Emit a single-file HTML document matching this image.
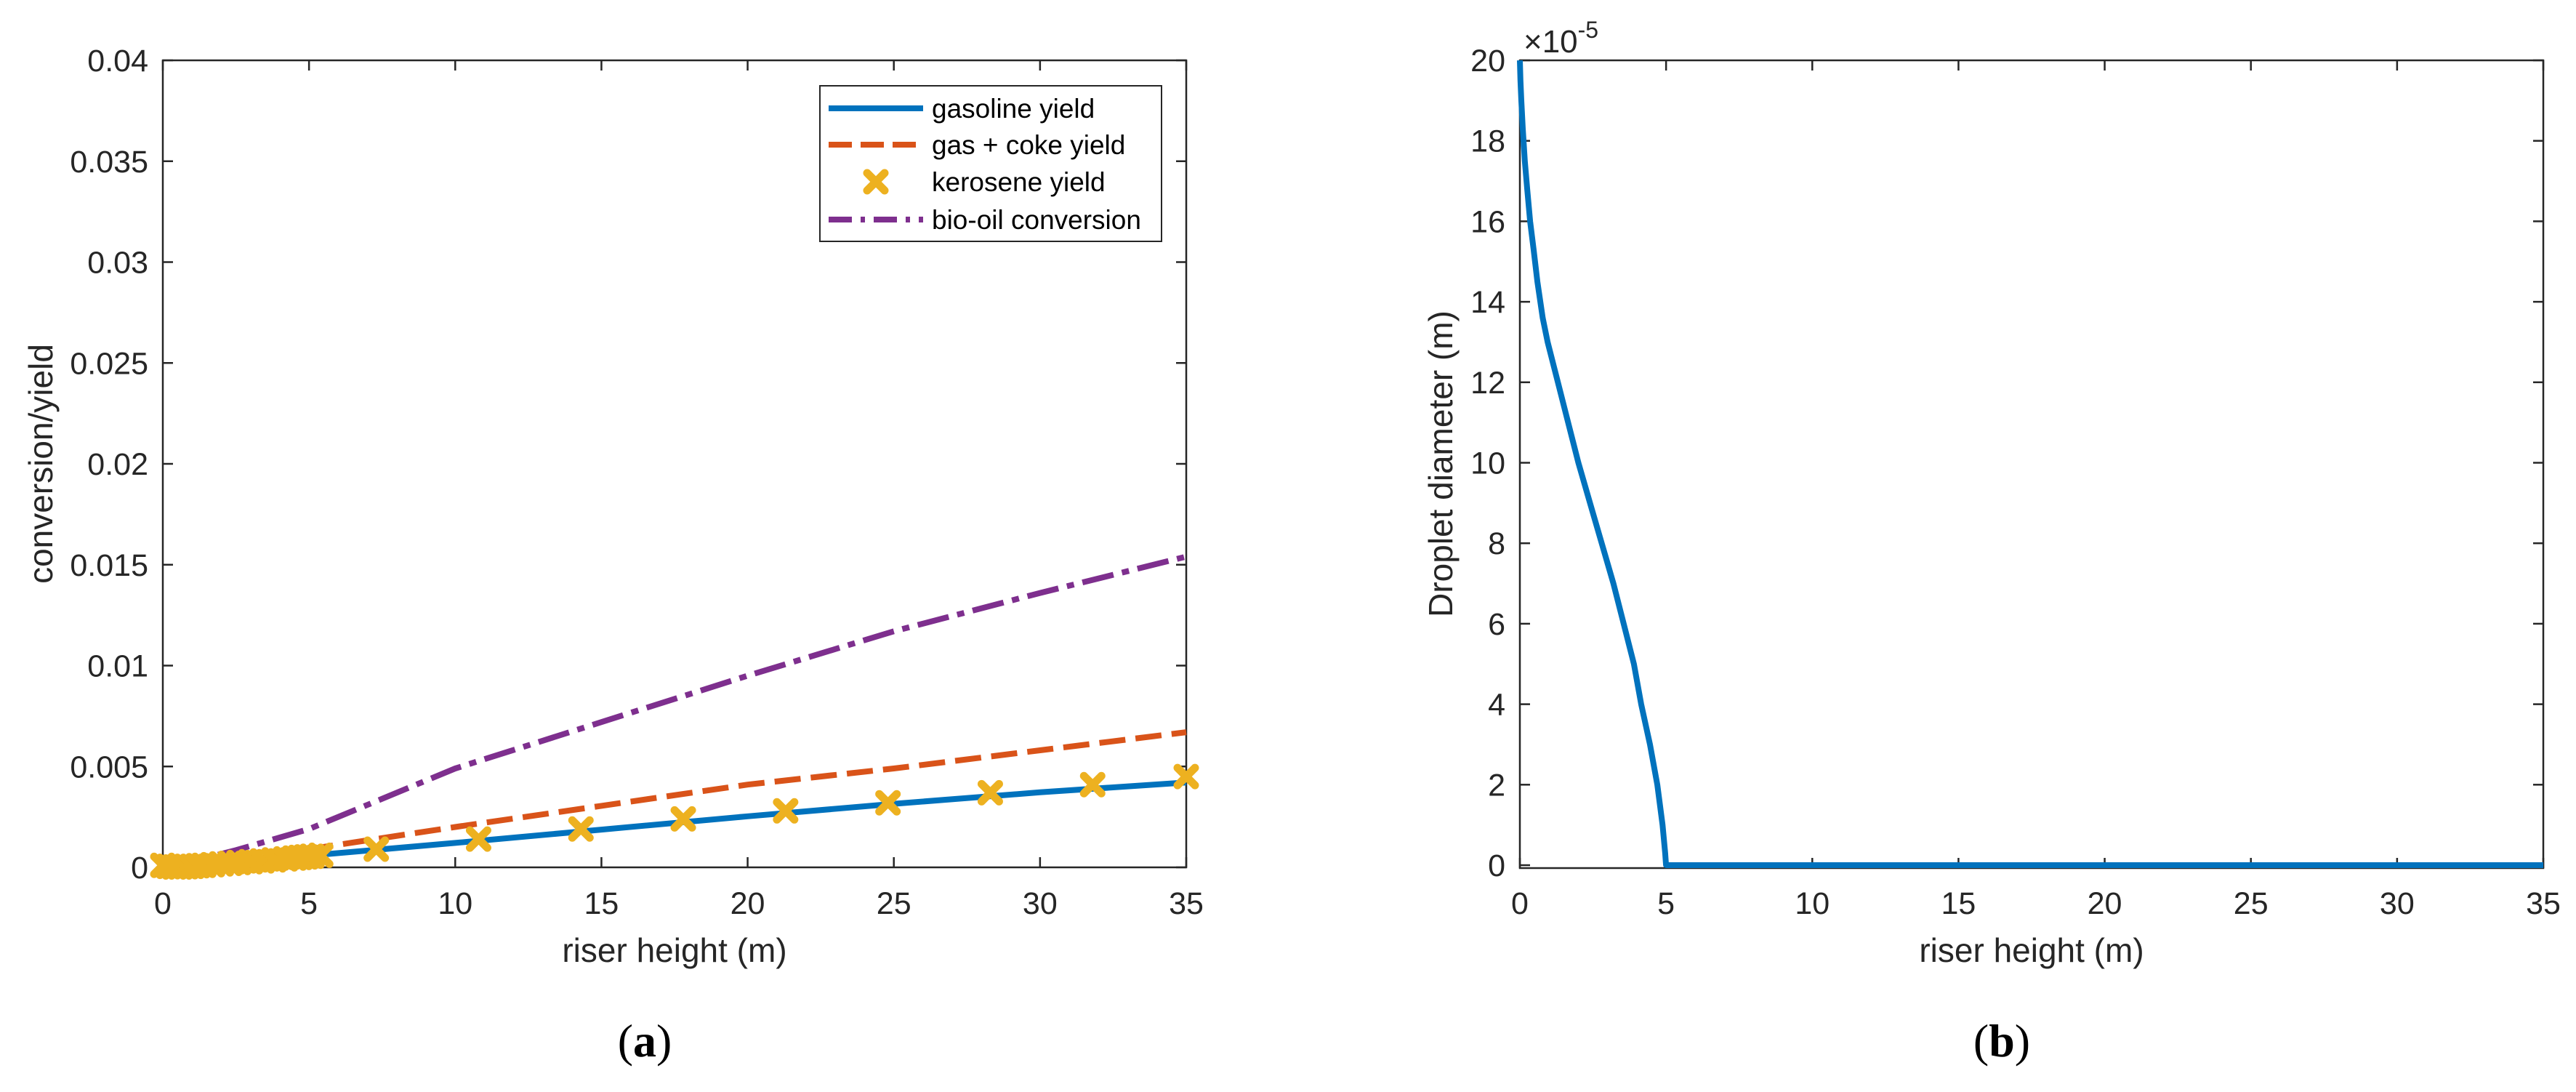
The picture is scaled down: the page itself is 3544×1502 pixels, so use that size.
<!DOCTYPE html>
<html><head><meta charset="utf-8"><style>
html,body{margin:0;padding:0;background:#fff;}
svg{display:block;font-family:"Liberation Sans",Arial,sans-serif;}
</style></head><body>
<svg id="fig" width="3544" height="1502" viewBox="0 0 3544 1502" xmlns="http://www.w3.org/2000/svg">
<rect width="3544" height="1502" fill="#fff"/>
<g id="pa"></g>
<g id="pb"></g>
</svg>
<script>
// ---- Panel (a) data ----
const aXTicks = [0,5,10,15,20,25,30,35];
const aYTicks = [0,0.005,0.01,0.015,0.02,0.025,0.03,0.035,0.04];
const aYTickLabels = ["0","0.005","0.01","0.015","0.02","0.025","0.03","0.035","0.04"];
const gasolineX = [0,1,2.5,5,10,15,20,25,30,35];
const gasolineY = [0,0.0001,0.00027,0.00058,0.00121,0.00187,0.00253,0.00315,0.00372,0.00421];
const gasCokeX = [0,1,2.5,5,10,15,20,25,30,35];
const gasCokeY = [0,0.00015,0.0004,0.0009,0.002,0.00305,0.0041,0.0049,0.0058,0.0067];
const bioOilX = [0,1,2.5,5,7.5,10,15,20,25,30,35];
const bioOilY = [0,0.0003,0.00085,0.0019,0.0034,0.0049,0.0072,0.0095,0.0117,0.0136,0.0154];
const keroX = [0,0.2,0.4,0.6,0.8,1,1.2,1.4,1.7,2,2.3,2.6,3,3.4,3.8,4.2,4.5,4.7,4.9,5.1,5.4,7.3,10.8,14.3,17.8,21.3,24.8,28.3,31.8,35];
const keroY = [0.0001,0.00005,0.00002,0.00002,0.00003,0.00005,0.00008,0.0001,0.00013,0.00017,0.0002,0.00024,0.00028,0.00032,0.00037,0.00042,0.00046,0.00049,0.00052,0.00055,0.0006,0.0009,0.0014,0.0019,0.0024,0.0028,0.0032,0.0037,0.0041,0.0045];
// ---- Panel (b) data ----
const bXTicks = [0,5,10,15,20,25,30,35];
const bYTicks = [0,2,4,6,8,10,12,14,16,18,20];
const dropX = [0,0.02,0.05,0.1,0.17,0.25,0.35,0.47,0.6,0.78,0.95,1.3,1.65,2.0,2.4,2.8,3.2,3.55,3.9,4.15,4.45,4.7,4.88,4.97,5,35];
const dropY = [20,19.5,19,18.3,17.5,16.8,16,15.3,14.5,13.6,13,12,11,10,9,8,7,6,5,4,3,2,1,0.3,0,0];

const NS="http://www.w3.org/2000/svg";
function mk(parent,tag,attrs,text){const e=document.createElementNS(NS,tag);for(const k in attrs)e.setAttribute(k,attrs[k]);if(text!==undefined)e.textContent=text;parent.appendChild(e);return e;}
const AX="#262626";

function axes(g,L,R,T,B,xmin,xmax,ymin,ymax,xt,yt,ytl,nm){
  const sx=v=>L+(v-xmin)/(xmax-xmin)*(R-L);
  const sy=v=>B-(v-ymin)/(ymax-ymin)*(B-T);
  const box=mk(g,'rect',{x:L,y:T,width:R-L,height:B-T,fill:'none',stroke:AX,'stroke-width':2.5});
  
  
  xt.forEach(v=>{const x=sx(v);
    mk(g,'line',{x1:x,y1:B,x2:x,y2:B-14,stroke:AX,'stroke-width':2.5});
    mk(g,'line',{x1:x,y1:T,x2:x,y2:T+14,stroke:AX,'stroke-width':2.5});
    const t=mk(g,'text',{x:x,y:1257,'font-size':43,fill:AX,'text-anchor':'middle'},String(v));
    
    
  });
  yt.forEach((v,i)=>{const y=sy(v);
    mk(g,'line',{x1:L,y1:y,x2:L+14,y2:y,stroke:AX,'stroke-width':2.5});
    mk(g,'line',{x1:R,y1:y,x2:R-14,y2:y,stroke:AX,'stroke-width':2.5});
    const t=mk(g,'text',{x:L-20,y:y+15,'font-size':43,fill:AX,'text-anchor':'end'},ytl?ytl[i]:String(v));
    
    
  });
  const xl=mk(g,'text',{x:(L+R)/2,y:1323,'font-size':46,fill:AX,'text-anchor':'middle'},'riser height (m)');
  
  
  return [sx,sy];
}
function poly(g,xs,ys,sx,sy,attrs,name){
  const pts=xs.map((x,i)=>sx(x).toFixed(1)+','+sy(ys[i]).toFixed(1)).join(' ');
  const p=mk(g,'polyline',Object.assign({points:pts,fill:'none','stroke-width':8,'stroke-linejoin':'round'},attrs));
  
  
  return p;
}
function cross(g,x,y,name){
  const p=mk(g,'path',{d:`M${x-12},${y-12}L${x+12},${y+12}M${x-12},${y+12}L${x+12},${y-12}`,stroke:'#EDB120','stroke-width':11,'stroke-linecap':'round',fill:'none'});
  
  
}

// Panel a
const ga=document.getElementById('pa');
const [ax,ay]=axes(ga,224,1632,83,1193,0,35,0,0.04,aXTicks,aYTicks,aYTickLabels,'panel-a');
poly(ga,bioOilX,bioOilY,ax,ay,{stroke:'#7E2F8E','stroke-dasharray':'44 12 10 12'},'bio-oil-conversion-line');
poly(ga,gasCokeX,gasCokeY,ax,ay,{stroke:'#D95319','stroke-dasharray':'36 14'},'gas-coke-yield-line');
poly(ga,gasolineX,gasolineY,ax,ay,{stroke:'#0072BD'},'gasoline-yield-line');
keroX.forEach((x,i)=>{cross(ga,ax(x),ay(keroY[i]),'kerosene-marker');});
const yla=mk(ga,'text',{x:0,y:0,'font-size':46,fill:AX,'text-anchor':'middle',transform:'translate(72,638) rotate(-90)'},'conversion/yield');


// legend
const lg=mk(ga,'g',{});


mk(lg,'rect',{x:1128,y:118,width:470,height:214,fill:'#fff',stroke:AX,'stroke-width':2});
const legRows=[149,199,250,302];
const legText=['gasoline yield','gas + coke yield','kerosene yield','bio-oil conversion'];
mk(lg,'line',{x1:1140,y1:legRows[0],x2:1270,y2:legRows[0],stroke:'#0072BD','stroke-width':8});
mk(lg,'line',{x1:1140,y1:legRows[1],x2:1270,y2:legRows[1],stroke:'#D95319','stroke-width':8,'stroke-dasharray':'32 12'});
cross(lg,1205,legRows[2],'legend-kerosene-marker');
mk(lg,'line',{x1:1140,y1:legRows[3],x2:1270,y2:legRows[3],stroke:'#7E2F8E','stroke-width':8,'stroke-dasharray':'32 12 6 12'});
legText.forEach((t,i)=>{const e=mk(lg,'text',{x:1282,y:legRows[i]+13,'font-size':37,fill:'#000'},t);
  
  });
const ca=mk(ga,'text',{x:887,y:1453,'font-size':64,'font-family':'"Liberation Serif",serif',fill:'#000','text-anchor':'middle'});


ca.innerHTML='(<tspan font-weight="bold">a</tspan>)';

// Panel b
const gb=document.getElementById('pb');
const [bx,by]=axes(gb,2091,3499,83,1194,0,35,-0.072,20,bXTicks,bYTicks,null,'panel-b');
poly(gb,dropX,dropY,bx,by,{stroke:'#0072BD'},'droplet-diameter-line');
const ylb=mk(gb,'text',{x:0,y:0,'font-size':46,fill:AX,'text-anchor':'middle',transform:'translate(1998,638) rotate(-90)'},'Droplet diameter (m)');


const ex=mk(gb,'text',{x:2096,y:72,'font-size':44,fill:AX});


ex.innerHTML='×10<tspan dy="-20" font-size="32">-5</tspan>';
const cb=mk(gb,'text',{x:2754,y:1453,'font-size':64,'font-family':'"Liberation Serif",serif',fill:'#000','text-anchor':'middle'});


cb.innerHTML='(<tspan font-weight="bold">b</tspan>)';
</script>
</body></html>
